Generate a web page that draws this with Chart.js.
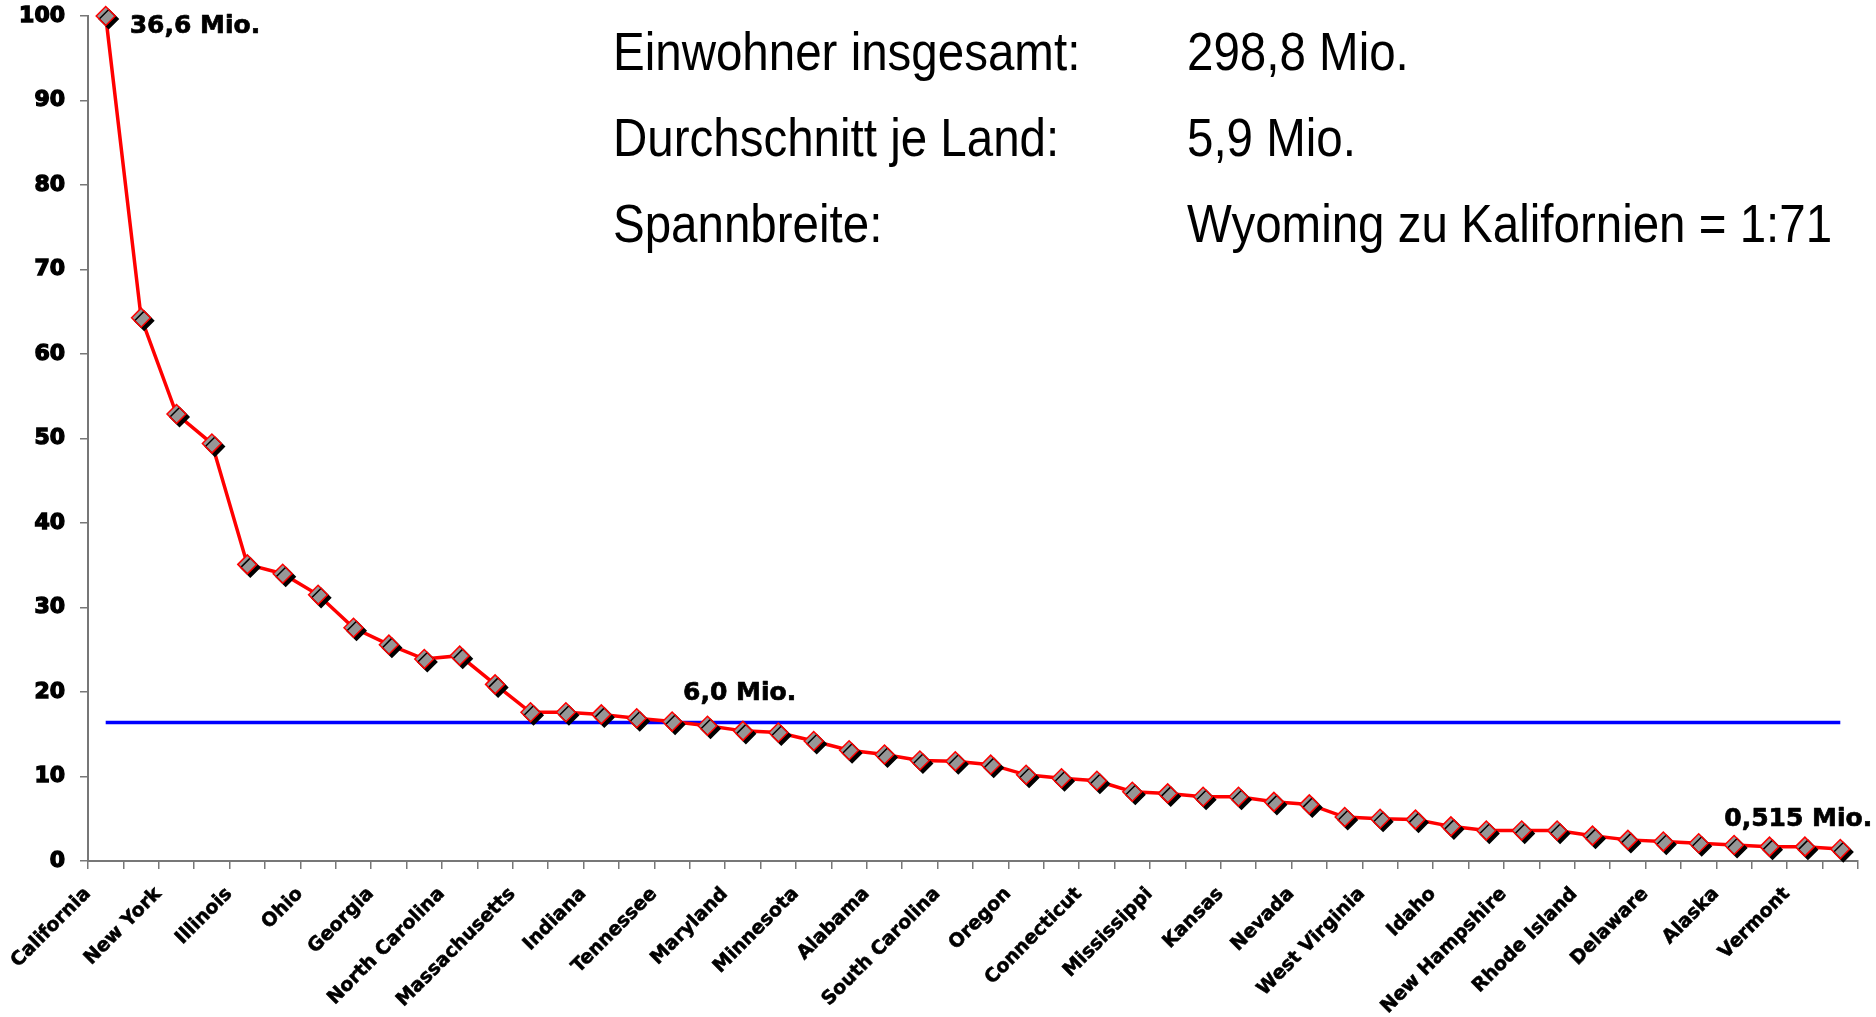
<!DOCTYPE html>
<html lang="de">
<head>
<meta charset="utf-8">
<title>Einwohner der US-Bundesstaaten</title>
<script src="https://cdn.jsdelivr.net/npm/chart.js@4/dist/chart.umd.min.js"></script>
<style>
  html, body { margin: 0; padding: 0; background: #ffffff; }
  canvas { display: block; }
</style>
</head>
<body>
<canvas id="chart" width="1876" height="1017"></canvas>
<script>
// States ordered by population (2006), California = 100
const states = [
  'California', 'Texas', 'New York', 'Florida', 'Illinois', 'Pennsylvania', 'Ohio', 'Michigan',
  'Georgia', 'New Jersey', 'North Carolina', 'Virginia', 'Massachusetts', 'Washington', 'Indiana',
  'Arizona', 'Tennessee', 'Missouri', 'Maryland', 'Wisconsin', 'Minnesota', 'Colorado', 'Alabama',
  'Louisiana', 'South Carolina', 'Kentucky', 'Oregon', 'Oklahoma', 'Connecticut', 'Iowa',
  'Mississippi', 'Arkansas', 'Kansas', 'Utah', 'Nevada', 'New Mexico', 'West Virginia', 'Nebraska',
  'Idaho', 'Maine', 'New Hampshire', 'Hawaii', 'Rhode Island', 'Montana', 'Delaware',
  'South Dakota', 'Alaska', 'North Dakota', 'Vermont', 'Wyoming'
];

// Population index relative to California (= 100)
const populationIndex = [
  100, 64.3, 52.9, 49.4, 35.1, 34.0, 31.5, 27.6, 25.6, 23.9,
  24.3, 20.9, 17.6, 17.6, 17.35, 16.9, 16.5, 16.0, 15.4, 15.2,
  14.2, 13.1, 12.6, 11.9, 11.8, 11.4, 10.2, 9.8, 9.5, 8.2,
  8.0, 7.6, 7.6, 7.0, 6.7, 5.2, 5.0, 4.9, 4.1, 3.6,
  3.6, 3.6, 3.0, 2.5, 2.3, 2.1, 1.9, 1.7, 1.7, 1.41
];

// Reference values in millions
const californiaMio = 36.6;
const averageMio = 6.0;
const wyomingMio = 0.515;

// Average state as index value, drawn as a flat line across all states
const averageIndex = averageMio / californiaMio * 100;
const averageLine = states.map(() => averageIndex);

// Y axis ticks
const yTicks = [0, 10, 20, 30, 40, 50, 60, 70, 80, 90, 100];

// Summary block (label, value)
const summaryLabels = ['Einwohner insgesamt:', 'Durchschnitt je Land:', 'Spannbreite:'];
const summaryValues = ['298,8 Mio.', '5,9 Mio.', 'Wyoming zu Kalifornien = 1:71'];

// Value notes next to the line
const noteFirst = '36,6 Mio.';
const noteAverage = '6,0 Mio.';
const noteLast = '0,515 Mio.';

const axisGray = '#777777';
const boldFont = '"DejaVu Sans", "Liberation Sans", Arial, sans-serif';

// Drop shadow under the diamond markers only
const markerShadow = {
  id: 'markerShadow',
  beforeDatasetDraw(chart, args) {
    if (chart.data.datasets[args.index].castShadow) {
      const ctx = chart.ctx;
      ctx.save();
      ctx.shadowColor = '#000000';
      ctx.shadowOffsetX = 3;
      ctx.shadowOffsetY = 3;
      ctx.shadowBlur = 0;
    }
  },
  afterDatasetDraw(chart, args) {
    if (chart.data.datasets[args.index].castShadow) {
      chart.ctx.restore();
    }
  }
};

// Heavy text: fill plus a thin outline in the same colour
function heavyText(ctx, text, x, y, stroke) {
  ctx.lineWidth = stroke;
  ctx.lineJoin = 'round';
  ctx.strokeText(text, x, y);
  ctx.fillText(text, x, y);
}

// Text annotations: value notes and the summary block
const annotations = {
  id: 'annotations',
  afterDraw(chart) {
    const ctx = chart.ctx;
    const x = chart.scales.x;
    const y = chart.scales.y;
    ctx.save();
    ctx.fillStyle = '#000000';
    ctx.strokeStyle = '#000000';
    ctx.textAlign = 'left';
    ctx.textBaseline = 'alphabetic';

    ctx.font = 'bold 25px ' + boldFont;
    const lastIdx = populationIndex.length - 1;
    heavyText(ctx, noteFirst, x.getPixelForValue(0) + 24, y.getPixelForValue(populationIndex[0]) + 17, 0.7);
    heavyText(ctx, noteAverage, x.getPixelForValue(16) + 11, y.getPixelForValue(averageIndex) - 22, 0.7);
    heavyText(ctx, noteLast, x.getPixelForValue(lastIdx) - 116, y.getPixelForValue(populationIndex[lastIdx]) - 23, 0.7);

    ctx.font = '47.5px "Liberation Sans", Arial, sans-serif';
    summaryLabels.forEach((label, i) => {
      const base = 70 + i * 86;
      ctx.save();
      ctx.translate(0, base);
      ctx.scale(1, 1.12);
      ctx.fillText(label, 613, 0);
      ctx.fillText(summaryValues[i], 1187, 0);
      ctx.restore();
    });
    ctx.restore();
  }
};

new Chart(document.getElementById('chart'), {
  type: 'line',
  data: {
    labels: states,
    datasets: [
      {
        label: 'Marker',
        data: populationIndex,
        showLine: false,
        castShadow: true,
        pointStyle: 'rectRot',
        pointRadius: 9.5,
        pointBorderWidth: 1.5,
        pointBackgroundColor: '#969696',
        pointBorderColor: '#ff0000',
        clip: false
      },
      {
        label: 'Einwohner',
        data: populationIndex,
        borderColor: '#ff0000',
        borderWidth: 3.5,
        pointRadius: 0,
        tension: 0,
        fill: false,
        clip: false
      },
      {
        label: 'Durchschnitt',
        data: averageLine,
        borderColor: '#0000ff',
        borderWidth: 3.5,
        pointRadius: 0,
        tension: 0,
        fill: false,
        clip: false
      }
    ]
  },
  options: {
    responsive: false,
    animation: false,
    events: [],
    layout: { padding: { top: 16, right: 18, left: 0, bottom: 0 } },
    plugins: {
      legend: { display: false },
      tooltip: { enabled: false },
      title: { display: false }
    },
    scales: {
      x: {
        type: 'category',
        offset: true,
        grid: {
          offset: true,
          drawOnChartArea: false,
          drawTicks: true,
          tickLength: 8,
          color: axisGray,
          lineWidth: 1.5
        },
        border: { display: true, color: axisGray, width: 2 },
        ticks: {
          autoSkip: false,
          minRotation: 45,
          maxRotation: 45,
          padding: 14,
          labelOffset: -18,
          color: '#000000',
          textStrokeColor: '#000000',
          textStrokeWidth: 0.6,
          font: { family: boldFont, size: 19, weight: 'bold' },
          callback(value, index) {
            return index % 2 === 0 ? this.getLabelForValue(value) : '';
          }
        },
        afterFit(scale) {
          scale.height = 156;
          scale.paddingLeft = 0;
          scale.paddingRight = 0;
        }
      },
      y: {
        min: 0,
        max: 100,
        grid: {
          drawOnChartArea: false,
          drawTicks: true,
          tickLength: 8,
          color: axisGray,
          lineWidth: 1.5
        },
        border: { display: true, color: axisGray, width: 2 },
        afterBuildTicks(scale) {
          scale.ticks = yTicks.map(v => ({ value: v }));
        },
        ticks: {
          padding: 15,
          color: '#000000',
          textStrokeColor: '#000000',
          textStrokeWidth: 1.4,
          font: { family: boldFont, size: 22, weight: 'bold' }
        },
        afterFit(scale) {
          scale.width = 88;
          scale.paddingTop = 0;
          scale.paddingBottom = 0;
        }
      }
    }
  },
  plugins: [markerShadow, annotations]
});
</script>
</body>
</html>
